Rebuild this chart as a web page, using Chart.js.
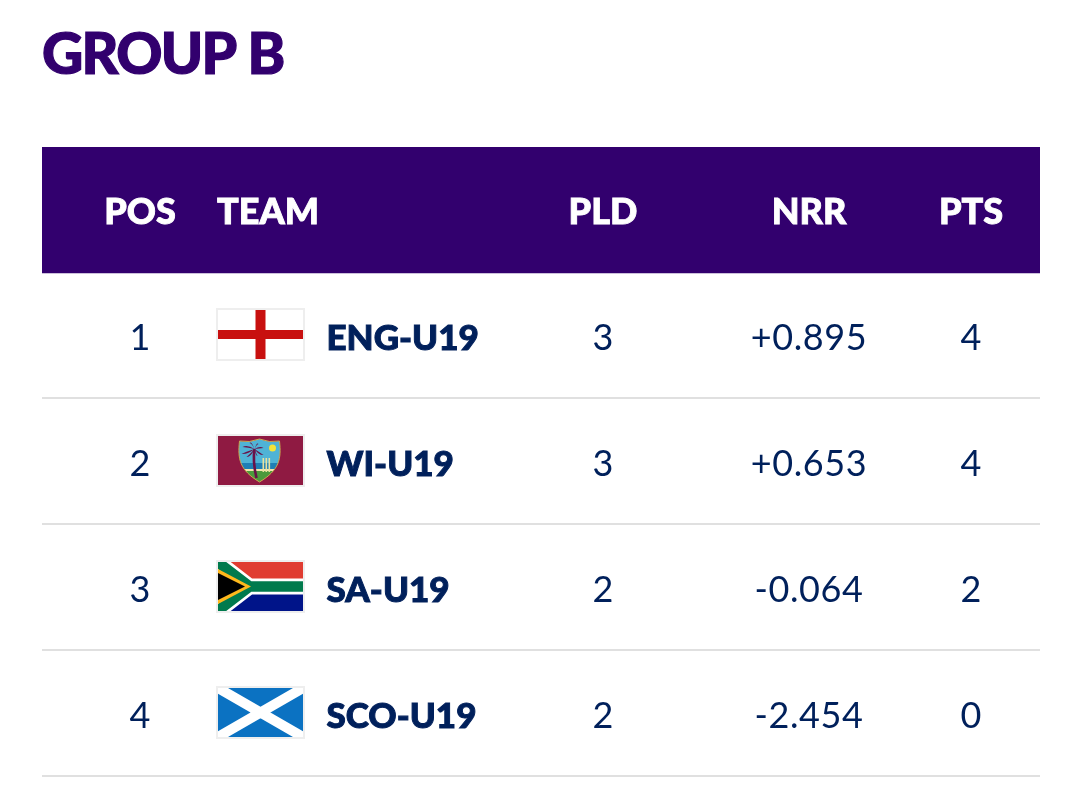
<!DOCTYPE html>
<html><head><meta charset="utf-8">
<style>html,body{margin:0;padding:0;background:#fff}canvas{display:block}</style>
<script src="https://cdn.jsdelivr.net/npm/chart.js@4/dist/chart.umd.min.js"></script>
</head><body><canvas id="c" width="1080" height="803"></canvas>
<script>
const titleText = "GROUP B";
const columnHeaders = ["POS", "TEAM", "PLD", "NRR", "PTS"];
const teams = ["ENG-U19", "WI-U19", "SA-U19", "SCO-U19"];
const positions = ["1", "2", "3", "4"];
const played = ["3", "3", "2", "2"];
const netRunRates = ["+0.895", "+0.653", "-0.064", "-2.454"];
const points = ["4", "4", "2", "0"];
const headerRow = "header";
const rows = [headerRow, ...teams];

const NAVY = "#00205b", PURPLE = "#32006e";
const colX = {pos: 98, team: 175, flag: 174, name: 284.5, pld: 561, nrr: 767, pts: 929};
const BODY = '"Lato", sans-serif';

function flagENG(c, x, y, w, h) {
  c.fillStyle = "#fff"; c.fillRect(x, y, w, h);
  c.fillStyle = "#c8100f";
  c.fillRect(x + w / 2 - 5, y, 10, h);
  c.fillRect(x, y + h / 2 - 4.5, w, 9);
}
function flagWI(c, x, y, w, h) {
  c.fillStyle = "#8f1a42"; c.fillRect(x, y, w, h);
  const cx = x + w / 2 - 1, t = y + 3, b = y + h - 3;
  const shield = () => {
    c.beginPath();
    c.moveTo(cx, t); c.quadraticCurveTo(cx + 10, t + 4, cx + 20, t + 2);
    c.bezierCurveTo(cx + 22, t + 20, cx + 20, b - 12, cx, b);
    c.bezierCurveTo(cx - 20, b - 12, cx - 22, t + 20, cx - 20, t + 2);
    c.quadraticCurveTo(cx - 10, t + 4, cx, t); c.closePath();
  };
  c.save(); shield(); c.clip();
  c.fillStyle = "#4fb3d6"; c.fillRect(cx - 24, t, 48, 26);
  c.fillStyle = "#1f7fb5"; c.fillRect(cx - 24, t + 24, 48, 6);
  c.fillStyle = "#f2e7b0"; c.fillRect(cx - 24, t + 30, 48, 3);
  c.fillStyle = "#4c9a3c"; c.fillRect(cx - 24, t + 32, 48, 14);
  c.fillStyle = "#f5e33a"; c.beginPath(); c.arc(cx + 13, t + 9, 3.5, 0, 7); c.fill();
  c.restore();
  c.strokeStyle = "#c9a94e"; c.lineWidth = 1; shield(); c.stroke();
  const px = cx - 5, py = t + 10;
  c.strokeStyle = "#6a1248"; c.lineWidth = 2.6;
  c.beginPath(); c.moveTo(cx - 3, b - 4); c.quadraticCurveTo(cx - 7, t + 22, px, py); c.stroke();
  c.fillStyle = "#6a1248";
  for (const [dx, dy] of [[-13, 5], [-12, -2], [-5, -6], [4, -5], [9, -1], [9, 6], [-8, 8], [3, 7]]) {
    c.beginPath(); c.moveTo(px, py);
    c.quadraticCurveTo(px + dx * .6, py + dy - 2.5, px + dx, py + dy);
    c.quadraticCurveTo(px + dx * .5, py + dy + .5, px, py); c.fill();
  }
  c.fillStyle = "#e8e2a0"; for (const d of [4, 7, 10]) c.fillRect(cx + d - 1, t + 19, 1.6, 14);
}
function flagSA(c, x, y, w, h) {
  c.fillStyle = "#e03c31"; c.fillRect(x, y, w, h / 2);
  c.fillStyle = "#001489"; c.fillRect(x, y + h / 2, w, h / 2);
  const m = y + h / 2, j = x + w * .37;
  const chev = (col, lw) => {
    c.strokeStyle = col; c.lineWidth = lw; c.beginPath();
    c.moveTo(x - 3, y - 2); c.lineTo(j, m); c.lineTo(x + w + 2, m);
    c.moveTo(j, m); c.lineTo(x - 3, y + h + 2); c.stroke();
  };
  c.save(); c.beginPath(); c.rect(x, y, w, h); c.clip();
  chev("#fff", 16); chev("#007a4d", 10.5);
  c.fillStyle = "#ffb81c"; c.beginPath(); c.moveTo(x, y + 7); c.lineTo(x + 33, m); c.lineTo(x, y + h - 7); c.fill();
  c.fillStyle = "#000"; c.beginPath(); c.moveTo(x, y + 11); c.lineTo(x + 27, m); c.lineTo(x, y + h - 11); c.fill();
  c.restore();
}
function flagSCO(c, x, y, w, h) {
  c.fillStyle = "#0b72c2"; c.fillRect(x, y, w, h);
  c.save(); c.beginPath(); c.rect(x, y, w, h); c.clip();
  c.strokeStyle = "#fff"; c.lineWidth = 10; c.beginPath();
  c.moveTo(x, y); c.lineTo(x + w, y + h); c.moveTo(x + w, y); c.lineTo(x, y + h); c.stroke();
  c.restore();
}
const flagPainters = [flagENG, flagWI, flagSA, flagSCO];

const tablePlugin = {
  id: "tableCells",
  beforeDraw(chart) { chart.ctx.letterSpacing = "-1.7px"; },
  afterDraw(chart) {
    const c = chart.ctx, tb = chart.titleBlock;
    c.save();
    c.font = '900 57px ' + BODY; c.textAlign = "left"; c.textBaseline = "middle";
    c.strokeStyle = PURPLE; c.lineWidth = 1.2;
    c.strokeText(titleText, tb.left, tb.top + 27 + 28.5);
    c.restore();
    c.letterSpacing = "0px";
  },
  beforeDatasetDraw(chart) { chart.ctx.save(); chart.ctx.translate(0, 1); },
  afterDatasetDraw(chart) { chart.ctx.restore(); },
  afterDatasetsDraw(chart) {
    const c = chart.ctx, X = chart.scales.x, Y = chart.scales.y;
    c.save();
    c.textBaseline = "middle";
    const put = (txt, col, row, font, color, align, dy, spacing, stroke) => {
      c.font = font; c.fillStyle = color; c.textAlign = align;
      c.letterSpacing = (spacing || 0) + "px";
      const px = X.getPixelForValue(colX[col]), py = Y.getPixelForValue(row) + dy;
      c.fillText(txt, px, py);
      if (stroke) { c.strokeStyle = color; c.lineWidth = stroke; c.strokeText(txt, px, py); }
    };
    const hf = '900 36px ' + BODY;
    put(columnHeaders[0], "pos", headerRow, hf, "#fff", "center", 3, 0, .9);
    put(columnHeaders[1], "team", headerRow, hf, "#fff", "left", 3, 0, .9);
    put(columnHeaders[2], "pld", headerRow, hf, "#fff", "center", 3, 0, .9);
    put(columnHeaders[3], "nrr", headerRow, hf, "#fff", "center", 3, 0, .9);
    put(columnHeaders[4], "pts", headerRow, hf, "#fff", "center", 3, 0, .9);
    teams.forEach((t, i) => {
      const f = '400 36px ' + BODY;
      put(positions[i], "pos", t, f, NAVY, "center", 3.5);
      put(played[i], "pld", t, f, NAVY, "center", 3.5);
      put(netRunRates[i], "nrr", t, f, NAVY, "center", 3.5, .6);
      put(points[i], "pts", t, f, NAVY, "center", 3.5);
      put(t, "name", t, '900 35px ' + BODY, NAVY, "left", 3.5, 0, 1);
      c.letterSpacing = "0px";
      const fx = X.getPixelForValue(colX.flag), fy = Y.getPixelForValue(t) - 27;
      c.fillStyle = "#eeeeee"; c.fillRect(fx, fy, 89, 53);
      c.save();
      flagPainters[i](c, fx + 2, fy + 2, 85, 49);
      c.restore();
    });
    c.restore();
  }
};

new Chart(document.getElementById("c"), {
  type: "bar",
  data: {
    labels: rows,
    datasets: [{
      label: "header band",
      data: [[0, 998], null, null, null, null],
      backgroundColor: PURPLE,
      borderWidth: 0,
      barPercentage: 1,
      categoryPercentage: 1
    }]
  },
  options: {
    indexAxis: "y",
    responsive: false,
    animation: false,
    layout: {padding: {left: 42, right: 40, bottom: 27, top: 0}},
    plugins: {
      legend: {display: false},
      tooltip: {enabled: false},
      title: {
        display: true, text: titleText, align: "start", color: PURPLE,
        font: {family: BODY, size: 57, weight: "900", lineHeight: 1},
        padding: {top: 27, bottom: 62}
      }
    },
    scales: {
      x: {type: "linear", min: 0, max: 998, display: false},
      y: {
        type: "category",
        ticks: {display: false},
        border: {display: false},
        grid: {
          offset: true, drawTicks: false, lineWidth: 2,
          color: ctx => ctx.index < 2 ? "rgba(0,0,0,0)" : "#e0e0e0"
        }
      }
    }
  },
  plugins: [tablePlugin]
});
</script></body></html>
